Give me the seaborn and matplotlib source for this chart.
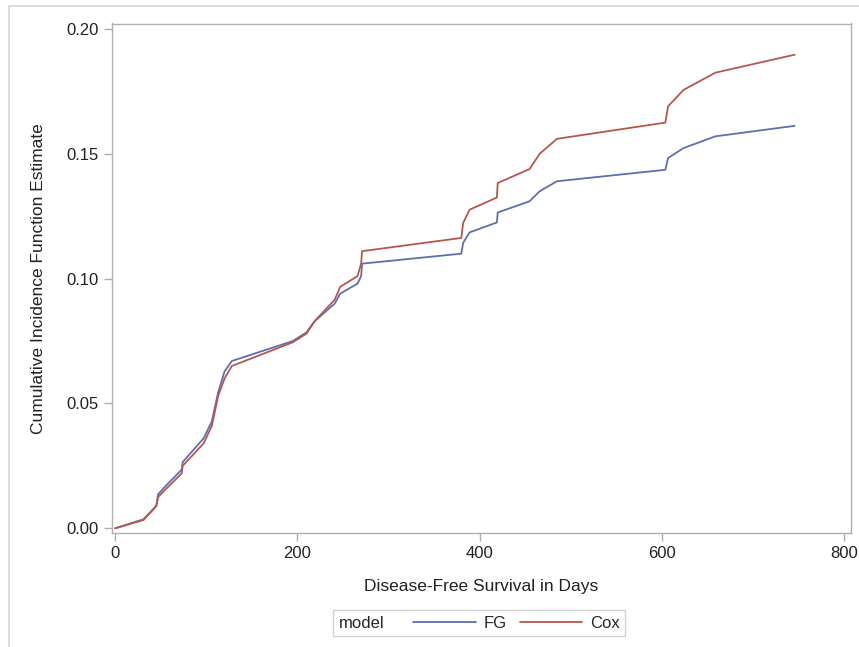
import matplotlib
matplotlib.use("Agg")
import matplotlib.pyplot as plt
import seaborn as sns
import pandas as pd
from matplotlib.patches import Rectangle
from matplotlib.offsetbox import HPacker

days = [0, 31, 45, 47, 55, 73, 74, 97, 106, 113, 120, 128, 195, 210, 219, 241,
        247, 266, 270, 271, 380, 382, 389, 419, 420, 455, 466, 485, 604, 607,
        624, 659, 746]
fg_cif = [0.0, 0.0036, 0.009, 0.0136, 0.0168, 0.0235, 0.0265, 0.036, 0.0428,
          0.0545, 0.0628, 0.067, 0.075, 0.0785, 0.083, 0.090, 0.094, 0.098,
          0.101, 0.106, 0.110, 0.1143, 0.1185, 0.1225, 0.1265, 0.131, 0.135,
          0.139, 0.1436, 0.1483, 0.1523, 0.157, 0.1612]
cox_cif = [0.0, 0.0033, 0.0088, 0.0125, 0.0155, 0.022, 0.025, 0.034, 0.041,
           0.053, 0.060, 0.065, 0.0745, 0.078, 0.083, 0.0916, 0.0967, 0.101,
           0.106, 0.111, 0.1163, 0.1223, 0.1276, 0.1325, 0.1383, 0.1439, 0.150,
           0.156, 0.1625, 0.169, 0.1756, 0.1825, 0.1897]
models = ["FG", "Cox"]
x_ticks = [0, 200, 400, 600, 800]
y_ticks = [0.00, 0.05, 0.10, 0.15, 0.20]

df = pd.DataFrame({
    "day": days + days,
    "cif": fg_cif + cox_cif,
    "model": ["FG"] * len(days) + ["Cox"] * len(days),
})

sns.set_theme(style="white")
plt.rcParams["font.family"] = ["Liberation Sans", "DejaVu Sans"]

W, H = 859, 647
fig = plt.figure(figsize=(W / 100, H / 100), dpi=100)
ax = fig.add_axes([112 / W, 1 - 533 / H, (851 - 112) / W, (533 - 23.5) / H])

palette = {"FG": "#5f6fae", "Cox": "#b8564e"}
sns.lineplot(data=df, x="day", y="cif", hue="model", hue_order=models,
             palette=palette, estimator=None, sort=False, linewidth=1.3, ax=ax)

ax.set_xlim(-3.6, 807.9)
ax.set_ylim(-0.0019, 0.2022)
ax.set_xticks(x_ticks)
ax.set_xticklabels([str(t) for t in x_ticks])
ax.set_yticks(y_ticks)
ax.set_yticklabels([f"{t:.2f}" for t in y_ticks])

gray = "#b0b0b0"
for s in ax.spines.values():
    s.set_color(gray)
    s.set_linewidth(1.0)
ax.tick_params(axis="both", which="both", direction="out", length=5.5, width=1,
               color=gray, labelsize=12, labelcolor="#222222", pad=4,
               left=True, bottom=True)

ax.set_xlabel("Disease-Free Survival in Days", fontsize=12.5, color="#222222", labelpad=13)
ax.set_ylabel("Cumulative Incidence Function Estimate", fontsize=12.5, color="#222222", labelpad=15)

# legend: title inline with entries
leg = ax.get_legend()
handles = leg.legend_handles
labels = [t.get_text() for t in leg.get_texts()]
leg.remove()
leg = fig.legend(handles, labels, title="model", ncol=2, loc="center",
                 bbox_to_anchor=(479 / W, 1 - 623 / H), frameon=True,
                 fontsize=12, title_fontsize=12, handlelength=3.75,
                 handletextpad=0.45, columnspacing=0.8, borderpad=0.35,
                 fancybox=False, edgecolor="#c8c8c8")
leg.get_frame().set_linewidth(1.0)
box = leg._legend_box
children = box.get_children()
newbox = HPacker(pad=box.pad, sep=21, align="center", children=children)
newbox.set_figure(fig)
newbox.axes = leg.axes
newbox.set_offset(leg._findoffset)
leg._legend_box = newbox

# outer border of graph
fig.patches.append(Rectangle((9 / W, -0.1), 2, 1.1 - 6 / H, transform=fig.transFigure,
                             fill=False, edgecolor="#d4d4d4", linewidth=1.2))

fig.savefig("out.png", dpi=100)
